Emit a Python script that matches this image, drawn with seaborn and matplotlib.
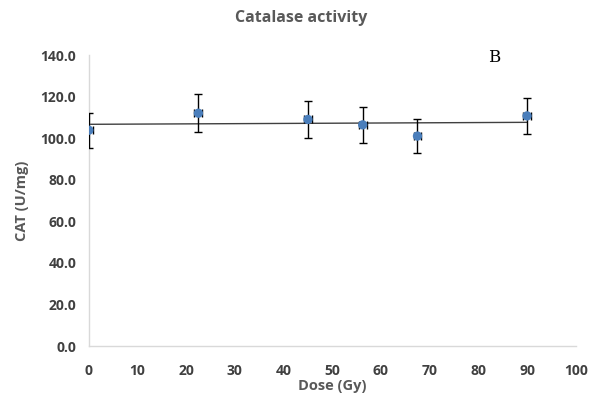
import numpy as np
import pandas as pd
import matplotlib
matplotlib.use("Agg")
import matplotlib.pyplot as plt
import seaborn as sns

dose = [0, 22.5, 45, 56.25, 67.5, 90]
cat = [103.8, 112.0, 109.0, 106.4, 101.0, 110.7]
cat_err = [8.4, 9.0, 9.0, 8.6, 8.0, 8.8]
dose_err = [0.8, 0.8, 0.8, 0.8, 0.8, 0.8]
yticks = [0, 20, 40, 60, 80, 100, 120, 140]
xticks = [0, 10, 20, 30, 40, 50, 60, 70, 80, 90, 100]

df = pd.DataFrame({"dose": dose, "cat": cat})

sns.set_style("white")
plt.rcParams['font.family'] = ['Open Sans', 'DejaVu Sans']

fig = plt.figure(figsize=(5.96, 4.0), dpi=100)
ax = fig.add_axes([0.149, 0.135, 0.817, 0.7275])

sns.regplot(data=df, x="dose", y="cat", ci=None, scatter=False, truncate=True,
            line_kws=dict(color="#404040", lw=1.0), ax=ax)
ax.errorbar(dose, cat, yerr=cat_err, xerr=dose_err, fmt="none", ecolor="black",
            elinewidth=1.0, capsize=3, capthick=1.0, zorder=3)
sns.scatterplot(data=df, x="dose", y="cat", color="#4A7EBB", s=45, edgecolor="none",
                ax=ax, zorder=4)

ax.set_xlim(0, 100)
ax.set_ylim(0, 140)
ax.set_xticks(xticks)
ax.set_xticklabels([str(v) for v in xticks])
ax.set_yticks(yticks)
ax.set_yticklabels([f"{v:.1f}" for v in yticks])
ax.tick_params(axis="both", length=0, labelsize=10, labelcolor="#404040")
ax.tick_params(axis="x", pad=13)
ax.tick_params(axis="y", pad=9)
for lab in ax.get_xticklabels() + ax.get_yticklabels():
    lab.set_fontweight("bold")
for s in ["top", "right"]:
    ax.spines[s].set_visible(False)
for s in ["left", "bottom"]:
    ax.spines[s].set_color("#d9d9d9")
    ax.spines[s].set_linewidth(1.0)

ax.set_xlabel("Dose (Gy)", fontsize=10.5, fontweight="bold", color="#595959", labelpad=1)
ax.set_ylabel("CAT (U/mg)", fontsize=10.5, fontweight="bold", color="#595959", labelpad=8)
fig.text(0.505, 0.955, "Catalase activity", ha="center", va="center", fontsize=11.5,
         fontweight="bold", color="#595959")
ax.text(82, 139, "B", fontsize=12, family="DejaVu Serif", color="black", va="center")

fig.savefig("out.png", dpi=100)
